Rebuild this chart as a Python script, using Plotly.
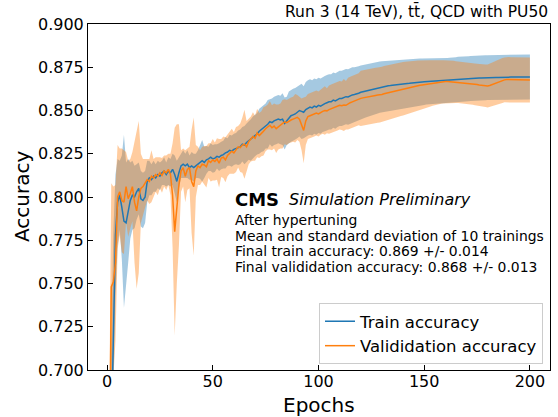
import numpy as np
import plotly.graph_objects as go

epochs = list(range(1, 201))

train_mean = [
    0.600, 0.660, 0.735, 0.778, 0.797, 0.801, 0.794, 0.786, 0.785, 0.792,
    0.798, 0.801, 0.800, 0.803, 0.805, 0.799, 0.798, 0.800, 0.809, 0.811,
    0.810, 0.812, 0.811, 0.813, 0.812, 0.814, 0.815, 0.813, 0.815, 0.814,
    0.816, 0.813, 0.809, 0.814, 0.818, 0.819, 0.818, 0.819, 0.817, 0.818,
    0.817, 0.818, 0.819, 0.8205, 0.821, 0.820, 0.8215, 0.822, 0.823, 0.822,
    0.8225, 0.8235, 0.823, 0.824, 0.8245, 0.8255, 0.826, 0.827, 0.8265, 0.8275,
    0.828, 0.8285, 0.829, 0.8305, 0.830, 0.8315, 0.8325, 0.833, 0.8345, 0.8355,
    0.8365, 0.838, 0.839, 0.8395, 0.841, 0.842, 0.8435, 0.843, 0.844, 0.8445,
    0.845, 0.8445, 0.845, 0.8425, 0.844, 0.846, 0.847, 0.8475, 0.848, 0.849,
    0.850, 0.8495, 0.849, 0.8505, 0.8515, 0.852, 0.8515, 0.8525, 0.852, 0.853,
    0.8525, 0.8535, 0.854, 0.8545, 0.855, 0.855, 0.856, 0.8555, 0.8565, 0.857,
    0.857, 0.8575, 0.858, 0.8578, 0.8585, 0.859, 0.8592, 0.8598, 0.860, 0.8605,
    0.8608, 0.8612, 0.8615, 0.8618, 0.8622, 0.8625, 0.8628, 0.8632, 0.8635, 0.8637,
    0.8639, 0.8641, 0.8643, 0.8644, 0.8646, 0.8647, 0.8649, 0.865, 0.8652, 0.8653,
    0.8655, 0.8656, 0.8657, 0.8659, 0.866, 0.8661, 0.8662, 0.8664, 0.8665, 0.8666,
    0.8667, 0.8668, 0.8669, 0.867, 0.867, 0.8671, 0.8672, 0.8673, 0.8674, 0.8675,
    0.8676, 0.8677, 0.8677, 0.8678, 0.8679, 0.868, 0.868, 0.8681, 0.8682, 0.8683,
    0.8684, 0.8685, 0.8685, 0.8686, 0.8687, 0.8688, 0.8688, 0.8689, 0.8689, 0.869,
    0.869, 0.869, 0.8691, 0.8691, 0.8691, 0.8692, 0.8692, 0.8692, 0.8692, 0.8693,
    0.8693, 0.8693, 0.8693, 0.8693, 0.8694, 0.8694, 0.8694, 0.8694, 0.8694, 0.8694,
]

train_std = [
    0.050, 0.050, 0.045, 0.035, 0.025, 0.020, 0.030, 0.050, 0.035, 0.030,
    0.022, 0.020, 0.018, 0.016, 0.015, 0.016, 0.016, 0.015, 0.012, 0.010,
    0.009, 0.009, 0.008, 0.008, 0.008, 0.007, 0.008, 0.007, 0.008, 0.008,
    0.009, 0.011, 0.012, 0.009, 0.007, 0.008, 0.007, 0.008, 0.007, 0.008,
    0.008, 0.007, 0.008, 0.010, 0.012, 0.009, 0.008, 0.007, 0.008, 0.008,
    0.008, 0.007, 0.008, 0.008, 0.008, 0.009, 0.008, 0.009, 0.009, 0.009,
    0.009, 0.010, 0.010, 0.010, 0.011, 0.011, 0.011, 0.012, 0.012, 0.012,
    0.012, 0.013, 0.013, 0.013, 0.013, 0.014, 0.013, 0.014, 0.014, 0.014,
    0.014, 0.014, 0.015, 0.015, 0.014, 0.015, 0.015, 0.015, 0.015, 0.015,
    0.015, 0.016, 0.015, 0.016, 0.016, 0.016, 0.016, 0.016, 0.016, 0.016,
    0.016, 0.016, 0.016, 0.016, 0.016, 0.016, 0.016, 0.016, 0.016, 0.016,
    0.016, 0.016, 0.016, 0.016, 0.016, 0.016, 0.0158, 0.0157, 0.0156, 0.0155,
    0.0155, 0.0154, 0.0153, 0.0152, 0.0151, 0.015, 0.015, 0.0149, 0.0148, 0.0147,
    0.0146, 0.0146, 0.0145, 0.0145, 0.0144, 0.0144, 0.0143, 0.0143, 0.0142, 0.0142,
    0.0141, 0.0141, 0.014, 0.014, 0.0139, 0.0138, 0.0137, 0.0136, 0.0135, 0.0134,
    0.0133, 0.0132, 0.0131, 0.013, 0.013, 0.0129, 0.0129, 0.0128, 0.0128, 0.0128,
    0.0128, 0.0128, 0.0128, 0.0129, 0.0129, 0.013, 0.013, 0.013, 0.013, 0.013,
    0.013, 0.013, 0.013, 0.013, 0.013, 0.013, 0.013, 0.013, 0.013, 0.013,
    0.013, 0.013, 0.013, 0.013, 0.013, 0.013, 0.013, 0.013, 0.013, 0.013,
    0.013, 0.013, 0.013, 0.013, 0.013, 0.013, 0.013, 0.013, 0.013, 0.013,
]

val_mean = [
    0.610, 0.748, 0.751, 0.762, 0.800, 0.803, 0.798, 0.797, 0.806, 0.799,
    0.802, 0.806, 0.797, 0.792, 0.800, 0.805, 0.806, 0.808, 0.810, 0.809,
    0.812, 0.811, 0.813, 0.812, 0.814, 0.8125, 0.815, 0.814, 0.816, 0.813,
    0.801, 0.780, 0.796, 0.807, 0.815, 0.817, 0.812, 0.816, 0.817, 0.809,
    0.806, 0.815, 0.818, 0.817, 0.819, 0.8185, 0.8175, 0.821, 0.820, 0.8215,
    0.8205, 0.822, 0.8195, 0.8225, 0.823, 0.8215, 0.824, 0.8255, 0.8265, 0.8255,
    0.8275, 0.829, 0.8285, 0.830, 0.8305, 0.829, 0.832, 0.8335, 0.835, 0.834,
    0.837, 0.8355, 0.8365, 0.838, 0.8395, 0.8405, 0.8415, 0.840, 0.841, 0.8395,
    0.8405, 0.841, 0.842, 0.8435, 0.843, 0.844, 0.8445, 0.845, 0.8455, 0.846,
    0.845, 0.842, 0.8385, 0.844, 0.8465, 0.847, 0.8475, 0.848, 0.8485, 0.848,
    0.849, 0.8495, 0.850, 0.8498, 0.8505, 0.851, 0.8515, 0.852, 0.8525, 0.853,
    0.8528, 0.8532, 0.853, 0.854, 0.8545, 0.855, 0.8556, 0.856, 0.8565, 0.857,
    0.8573, 0.8576, 0.8578, 0.8581, 0.8583, 0.8585, 0.8587, 0.8589, 0.859, 0.8593,
    0.8597, 0.860, 0.8604, 0.8607, 0.861, 0.8614, 0.8617, 0.862, 0.8623, 0.8626,
    0.8628, 0.8631, 0.8633, 0.8635, 0.8637, 0.864, 0.8643, 0.8646, 0.8648, 0.865,
    0.8653, 0.8655, 0.8657, 0.8659, 0.866, 0.8662, 0.8664, 0.8665, 0.8666, 0.8667,
    0.8667, 0.8666, 0.8666, 0.8665, 0.8664, 0.8663, 0.8662, 0.8661, 0.866, 0.8659,
    0.8657, 0.8655, 0.8653, 0.8651, 0.865, 0.8648, 0.8646, 0.8645, 0.8643, 0.8642,
    0.8645, 0.865, 0.8655, 0.866, 0.8665, 0.867, 0.8674, 0.8677, 0.8679, 0.8679,
    0.8678, 0.8678, 0.8677, 0.8677, 0.8676, 0.8676, 0.8676, 0.8675, 0.8676, 0.8676,
]

val_std = [
    0.060, 0.060, 0.055, 0.045, 0.030, 0.025, 0.030, 0.030, 0.020, 0.022,
    0.020, 0.020, 0.035, 0.045, 0.044, 0.020, 0.016, 0.014, 0.012, 0.013,
    0.015, 0.011, 0.010, 0.011, 0.009, 0.010, 0.009, 0.010, 0.009, 0.012,
    0.030, 0.060, 0.046, 0.035, 0.012, 0.011, 0.015, 0.012, 0.012, 0.030,
    0.040, 0.015, 0.011, 0.010, 0.010, 0.011, 0.012, 0.010, 0.011, 0.012,
    0.011, 0.012, 0.014, 0.011, 0.012, 0.013, 0.012, 0.012, 0.013, 0.012,
    0.013, 0.012, 0.014, 0.016, 0.020, 0.015, 0.013, 0.013, 0.014, 0.013,
    0.014, 0.013, 0.013, 0.014, 0.013, 0.013, 0.014, 0.013, 0.013, 0.014,
    0.013, 0.013, 0.014, 0.013, 0.013, 0.013, 0.013, 0.013, 0.014, 0.013,
    0.013, 0.015, 0.019, 0.014, 0.013, 0.013, 0.013, 0.013, 0.013, 0.013,
    0.013, 0.013, 0.014, 0.013, 0.014, 0.014, 0.014, 0.014, 0.014, 0.014,
    0.014, 0.015, 0.014, 0.015, 0.015, 0.015, 0.015, 0.015, 0.015, 0.016,
    0.016, 0.016, 0.016, 0.016, 0.016, 0.016, 0.016, 0.016, 0.016, 0.016,
    0.016, 0.016, 0.016, 0.016, 0.016, 0.0158, 0.0157, 0.0156, 0.0155, 0.0155,
    0.0154, 0.0153, 0.0152, 0.0151, 0.015, 0.0148, 0.0146, 0.0144, 0.0142, 0.014,
    0.0138, 0.0136, 0.0134, 0.0132, 0.013, 0.0128, 0.0127, 0.0126, 0.0125, 0.0124,
    0.0124, 0.0123, 0.0122, 0.0122, 0.0121, 0.012, 0.012, 0.012, 0.012, 0.012,
    0.012, 0.012, 0.012, 0.012, 0.012, 0.012, 0.0121, 0.0122, 0.0123, 0.0124,
    0.0125, 0.0126, 0.0127, 0.0128, 0.0129, 0.013, 0.013, 0.013, 0.013, 0.013,
    0.013, 0.013, 0.013, 0.013, 0.013, 0.013, 0.013, 0.013, 0.013, 0.013,
]

x_ticks = [0, 50, 100, 150, 200]
y_ticks = [0.700, 0.725, 0.750, 0.775, 0.800, 0.825, 0.850, 0.875, 0.900]

title_text = "Run 3 (14 TeV), tt\u0304, QCD with PU50"
cms_text = "CMS"
cms_sub = "Simulation Preliminary"
info_lines = [
    "After hypertuning",
    "Mean and standard deviation of 10 trainings",
    "Final train accuracy: 0.869 +/- 0.014",
    "Final valididation accuracy: 0.868 +/- 0.013",
]
train_name = "Train accuracy"
val_name = "Valididation accuracy"

BLUE = "#1f77b4"
ORANGE = "#ff7f0e"
FONT = "DejaVu Sans"

W, H = 558, 417
L, R, T, B = 88, 550, 24, 370


def px(x):
    return (x - L) / (R - L)


def py(y):
    return (B - y) / (B - T)


ep = np.array(epochs)
tm, ts = np.array(train_mean), np.array(train_std)
vm, vs = np.array(val_mean), np.array(val_std)

fig = go.Figure()


def band(mean, std, color):
    xs = np.concatenate([ep, ep[::-1]])
    ys = np.concatenate([mean + std, (mean - std)[::-1]])
    return go.Scatter(x=xs, y=ys, fill="toself", fillcolor=color,
                      line=dict(width=0), mode="lines", showlegend=False,
                      hoverinfo="skip")


fig.add_trace(band(tm, ts, "rgba(31,119,180,0.4)"))
fig.add_trace(band(vm, vs, "rgba(255,127,14,0.4)"))
fig.add_trace(go.Scatter(x=ep, y=tm, mode="lines", name=train_name,
                         line=dict(color=BLUE, width=1.5)))
fig.add_trace(go.Scatter(x=ep, y=vm, mode="lines", name=val_name,
                         line=dict(color=ORANGE, width=1.5)))

axis_common = dict(showline=True, linecolor="black", linewidth=1, mirror=True,
                   ticks="inside", ticklen=5, tickwidth=1, tickcolor="black",
                   showgrid=False, zeroline=False,
                   tickfont=dict(family=FONT, size=16, color="black"))

fig.update_xaxes(range=[-9, 209.5], tickvals=x_ticks, ticklabelstandoff=-3, **axis_common)
fig.update_yaxes(range=[0.7, 0.9], tickvals=y_ticks, tickformat=".3f", **axis_common)

ann = []
ann.append(dict(text=title_text, x=px(550), y=py(12), xref="paper", yref="paper",
                xanchor="right", yanchor="middle", showarrow=False,
                font=dict(family=FONT, size=15.5, color="black")))
ann.append(dict(text="Accuracy", x=px(22), y=py(197), xref="paper", yref="paper",
                xanchor="center", yanchor="middle", textangle=-90, showarrow=False,
                font=dict(family=FONT, size=20, color="black")))
ann.append(dict(text="Epochs", x=px(319), y=py(405), xref="paper", yref="paper",
                xanchor="center", yanchor="middle", showarrow=False,
                font=dict(family=FONT, size=20, color="black")))
ann.append(dict(text="<b>" + cms_text + "</b>", x=px(233), y=py(199), xref="paper",
                yref="paper", xanchor="left", yanchor="middle", showarrow=False,
                font=dict(family=FONT, size=18, color="black")))
ann.append(dict(text="<i>" + cms_sub + "</i>", x=px(287), y=py(199), xref="paper",
                yref="paper", xanchor="left", yanchor="middle", showarrow=False,
                font=dict(family=FONT, size=16, color="black")))
for i, line in enumerate(info_lines):
    ann.append(dict(text=line, x=px(233), y=py(220 + 15.6 * i), xref="paper",
                    yref="paper", xanchor="left", yanchor="middle", showarrow=False,
                    font=dict(family=FONT, size=13.9, color="black")))

fig.update_layout(
    width=W, height=H,
    margin=dict(l=L, r=W - R, t=T, b=H - B, pad=0),
    paper_bgcolor="white", plot_bgcolor="white",
    font=dict(family=FONT, color="black"),
    annotations=ann,
    legend=dict(x=px(543), y=py(364), xanchor="right", yanchor="bottom",
                bgcolor="rgba(255,255,255,0.8)", bordercolor="#cccccc", borderwidth=1,
                font=dict(family=FONT, size=16.5, color="black"),
                itemwidth=30, tracegroupgap=0),
    showlegend=True,
)

fig.write_html("out.html")
